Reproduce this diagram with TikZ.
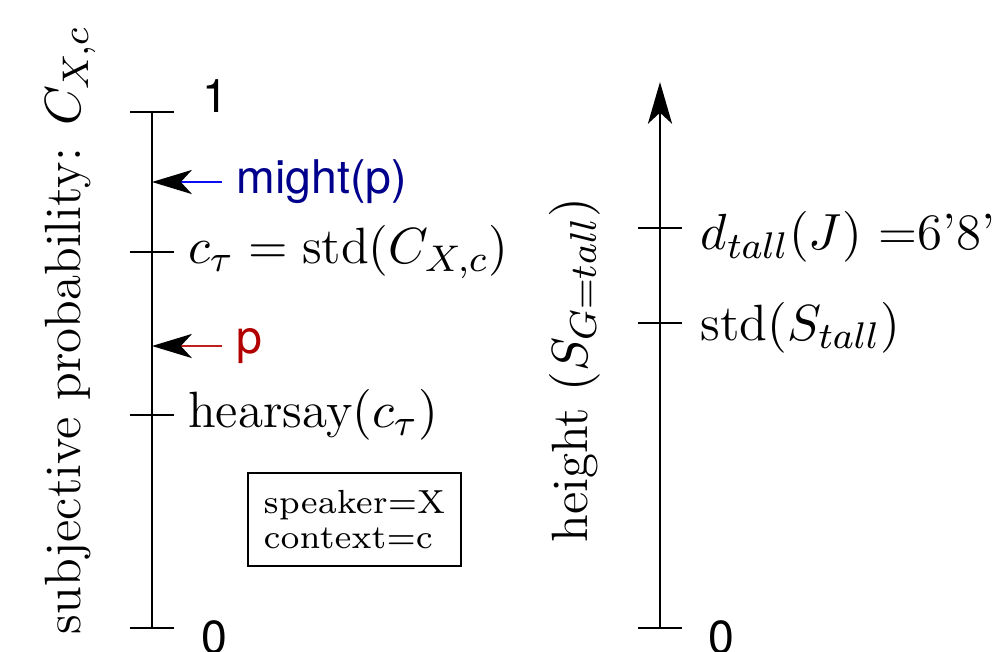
\documentclass[tikz,border=0pt]{standalone}
\usepackage{fontspec}
\newfontfamily\helvfont{TeX Gyre Heros}
\usepackage{xcolor}
\usepackage{tikz}
\usetikzlibrary{arrows.meta,positioning}
\definecolor{mightline}{rgb}{0.05,0.05,0.95}
\definecolor{mighttext}{rgb}{0,0,0.55}
\definecolor{pline}{rgb}{0.75,0.12,0.12}
\definecolor{ptext}{rgb}{0.7,0,0}
\tikzset{
  sc axis/.style={semithick},
  sc tick/.style={semithick},
  sc end/.style={
    font=\helvfont\fontsize{10}{12}\selectfont,
    inner sep=0pt,
    anchor=west,
  },
  sc label/.style={
    font=\fontsize{11}{13}\selectfont,
    inner sep=0pt,
    anchor=west,
  },
  sc pointer/.style={-{Stealth[length=8.6pt,width=5.2pt,inset=2.4pt,black]}, semithick},
  sc note/.style={
    draw,
    thin,
    minimum width=45.5pt,
    minimum height=20pt,
    align=left,
    font=\fontsize{7.2}{7.6}\selectfont,
  },
}

\begin{document}
\begin{tikzpicture}[x=0.2155pt,y=0.2155pt]
  \useasboundingbox (0,0) rectangle (992,651);

  % left scale: subjective probability
  \coordinate (lbot) at (152,23);
  \coordinate (ltop) at (152,539);
  \coordinate (lstd) at (152,399);
  \coordinate (lhear) at (152,236);
  \coordinate (lmight) at (152,469);
  \coordinate (lp) at (152,305);

  \draw[sc axis] (lbot) -- (ltop);
  \foreach \t in {lbot,ltop,lstd,lhear}
    \draw[sc tick] ([xshift=-4.74pt]\t) -- ([xshift=4.74pt]\t);

  \node[sc end] (one) at (202,555) {1};
  \node[sc end] (zero) at (201,14) {0};
  \node[sc label,right=7.6pt of lstd] (std) {$c_\tau = \mathrm{std}(C_{X,c})$};
  \node[sc label,right=7.6pt of lhear] (hear) {hearsay$(c_\tau)$};
  \node[sc end,text=mighttext,inner xsep=3pt] (might) at (222,469) {might(p)};
  \node[sc end,text=ptext,inner xsep=3pt] (p) at (222,305) {p};

  \draw[sc pointer,mightline] (might.west) -- (lmight);
  \draw[sc pointer,pline] (p.west) -- (lp);

  \node[sc note] (ctx) at (354.5,131.5) {speaker=X\\context=c};
  \node[rotate=90,font=\fontsize{11}{13}\selectfont] (prob) at (70,321)
    {subjective probability: $C_{X,c}$};

  % right scale: height
  \coordinate (rbot) at (660,23);
  \coordinate (rtop) at (660,569);
  \coordinate (rdeg) at (660,423);
  \coordinate (rstd) at (660,328);

  \draw[sc axis,-{Stealth[length=9pt,width=5.2pt,inset=2.4pt]}] (rbot) -- (rtop);
  \foreach \t in {rbot,rdeg,rstd}
    \draw[sc tick] ([xshift=-4.74pt]\t) -- ([xshift=4.74pt]\t);

  \node[sc end] (rzero) at (708,14) {0};
  \node[sc label,right=8.6pt of rdeg,yshift=-2pt] (deg) {$d_{tall}(J)$ =6'8''};
  \node[sc label,right=8.6pt of rstd,yshift=-1pt] (rs) {$\mathrm{std}(S_{tall})$};
  \node[rotate=90,font=\fontsize{11}{13}\selectfont] (hgt) at (575,281)
    {height $(S_{G=tall})$};
\end{tikzpicture}
\end{document}
